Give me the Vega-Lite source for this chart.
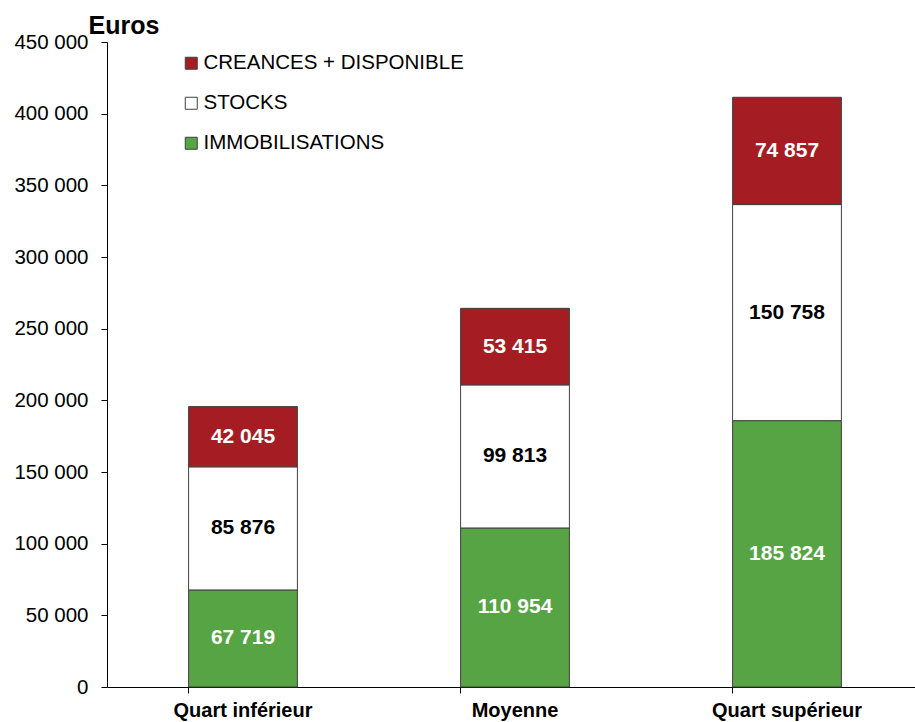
{
  "$schema": "https://vega.github.io/schema/vega-lite/v6.json",
  "width": 808,
  "height": 645,
  "autosize": "none",
  "padding": {"left": 107, "top": 42, "right": 0, "bottom": 35},
  "background": "white",
  "config": {
    "view": {"stroke": null},
    "font": "Liberation Sans",
    "locale": {"number": {"decimal": ",", "thousands": " ", "grouping": [3], "currency": ["", " €"]}}
  },
  "data": {
    "values": [
      {"cat": "Quart inférieur", "series": "IMMOBILISATIONS", "ord": 1, "value": 67719},
      {"cat": "Quart inférieur", "series": "STOCKS", "ord": 2, "value": 85876},
      {"cat": "Quart inférieur", "series": "CREANCES + DISPONIBLE", "ord": 3, "value": 42045},
      {"cat": "Moyenne", "series": "IMMOBILISATIONS", "ord": 1, "value": 110954},
      {"cat": "Moyenne", "series": "STOCKS", "ord": 2, "value": 99813},
      {"cat": "Moyenne", "series": "CREANCES + DISPONIBLE", "ord": 3, "value": 53415},
      {"cat": "Quart supérieur", "series": "IMMOBILISATIONS", "ord": 1, "value": 185824},
      {"cat": "Quart supérieur", "series": "STOCKS", "ord": 2, "value": 150758},
      {"cat": "Quart supérieur", "series": "CREANCES + DISPONIBLE", "ord": 3, "value": 74857}
    ]
  },
  "encoding": {
    "x": {
      "field": "cat", "type": "nominal", "sort": null,
      "scale": {"paddingInner": 0.6, "paddingOuter": 0.3, "range": [0, 816]},
      "axis": {
        "title": null, "labelAngle": 0, "labelFont": "Liberation Sans", "labelFontSize": 20,
        "labelFontWeight": "bold", "labelColor": "black", "labelPadding": 7, "labelBaseline": "top",
        "domainColor": "black", "tickColor": "black", "tickSize": 6, "tickWidth": 1, "bandPosition": 0
      }
    },
    "y": {
      "field": "value", "type": "quantitative", "stack": "zero",
      "scale": {"domain": [0, 450000], "nice": false},
      "axis": {
        "title": "Euros", "titleAngle": 0, "titleX": -19, "titleY": -9, "titleAlign": "left",
        "titleBaseline": "alphabetic", "titleFontSize": 25, "titleFontWeight": "bold", "titleColor": "black",
        "titleFont": "Liberation Sans",
        "values": [0, 50000, 100000, 150000, 200000, 250000, 300000, 350000, 400000, 450000],
        "format": ",.0f", "grid": false, "labelFontSize": 20.5, "labelColor": "black", "labelPadding": 13,
        "domainColor": "black", "tickColor": "black", "tickSize": 6
      }
    },
    "order": {"field": "ord", "type": "quantitative"}
  },
  "layer": [
    {
      "mark": {"type": "bar", "stroke": "#404040", "strokeWidth": 1},
      "encoding": {
        "color": {
          "field": "series", "type": "nominal",
          "scale": {"domain": ["CREANCES + DISPONIBLE", "STOCKS", "IMMOBILISATIONS"], "range": ["#A51D23", "#FFFFFF", "#56A443"]},
          "legend": {
            "title": null, "orient": "none", "legendX": 74, "legendY": 11, "padding": 0,
            "symbolType": "square", "symbolSize": 144, "symbolStrokeColor": "#404040", "symbolStrokeWidth": 1,
            "labelFontSize": 20.5, "labelColor": "black", "labelOffset": 2, "rowPadding": 19,
            "labelFont": "Liberation Sans", "labelLimit": 0
          }
        }
      }
    },
    {
      "mark": {"type": "text", "font": "Liberation Sans", "fontSize": 21, "fontWeight": "bold", "baseline": "middle"},
      "encoding": {
        "y": {"field": "value", "type": "quantitative", "stack": "zero", "bandPosition": 0.5},
        "text": {"field": "value", "type": "quantitative", "format": ",.0f"},
        "color": {"condition": {"test": "datum.series === 'STOCKS'", "value": "black"}, "value": "white"}
      }
    }
  ]
}
